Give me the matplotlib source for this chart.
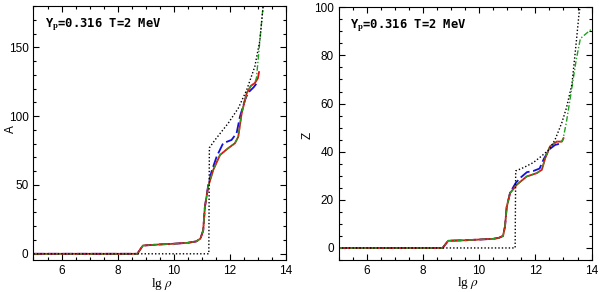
import matplotlib
matplotlib.use("Agg")
import matplotlib.pyplot as plt
from matplotlib.ticker import MultipleLocator

# ---- data ----
# left panel: A vs lg rho
a_red_x = [5.0, 8.7, 8.9, 9.5, 10.0, 10.5, 10.8, 10.95, 11.05, 11.11, 11.23, 11.41, 11.65,
           11.94, 12.18, 12.30, 12.42, 12.60, 12.75, 12.89, 13.0, 13.04]
a_red_y = [0.0, 0.0, 6.0, 6.8, 7.3, 8.0, 9.0, 11.0, 17.0, 34.0, 49.0, 61.0, 71.8,
           76.7, 80.3, 85.0, 102.0, 116.6, 122.0, 124.0, 127.5, 132.0]

a_blue_x = [5.0, 8.7, 8.9, 9.5, 10.0, 10.5, 10.8, 10.95, 11.05, 11.11, 11.23, 11.35, 11.53,
            11.76, 12.06, 12.24, 12.36, 12.54, 12.65, 12.85, 13.0]
a_blue_y = [0.0, 0.0, 6.0, 6.8, 7.3, 8.0, 9.0, 11.0, 17.0, 34.0, 50.0, 60.0, 70.6,
            80.3, 82.7, 87.6, 99.6, 111.8, 117.0, 121.0, 125.0]

a_green_x = [5.0, 8.7, 8.9, 9.5, 10.0, 10.5, 10.8, 10.95, 11.05, 11.11, 11.23, 11.41, 11.65,
             11.94, 12.18, 12.30, 12.42, 12.60, 12.75, 12.89, 12.95, 13.07, 13.2]
a_green_y = [0.0, 0.0, 6.0, 6.8, 7.3, 8.0, 9.0, 11.0, 17.0, 34.0, 49.0, 61.0, 71.8,
             76.7, 80.3, 85.0, 102.0, 116.6, 122.0, 124.0, 128.0, 155.0, 183.0]

a_black_x = [5.0, 11.25, 11.27, 11.47, 11.94, 12.30, 12.60, 12.89, 13.07, 13.2]
a_black_y = [0.0, 0.0, 77.0, 82.7, 94.8, 105.7, 119.0, 136.0, 155.0, 183.0]

# right panel: Z vs lg rho
z_red_x = [5.0, 8.7, 8.9, 9.5, 10.0, 10.5, 10.7, 10.85, 10.92, 10.98, 11.1, 11.34, 11.69,
           12.05, 12.23, 12.35, 12.52, 12.76, 12.94, 13.0]
z_red_y = [0.0, 0.0, 3.0, 3.2, 3.5, 3.8, 4.2, 5.0, 9.0, 17.0, 22.8, 26.3, 29.7,
           31.1, 32.5, 37.3, 42.2, 44.2, 44.2, 45.6]

z_blue_x = [5.0, 8.7, 8.9, 9.5, 10.0, 10.5, 10.7, 10.85, 10.92, 10.98, 11.1, 11.3, 11.5,
            11.7, 11.93, 12.15, 12.3, 12.5, 12.7, 12.95]
z_blue_y = [0.0, 0.0, 3.0, 3.2, 3.5, 3.8, 4.2, 5.0, 9.0, 17.0, 23.0, 27.0, 29.5,
            31.5, 32.0, 33.0, 37.0, 41.0, 42.8, 43.6]

z_green_x = [5.0, 8.7, 8.9, 9.5, 10.0, 10.5, 10.7, 10.85, 10.92, 10.98, 11.1, 11.34, 11.69,
             12.05, 12.23, 12.35, 12.52, 12.76, 12.94, 12.98, 13.1, 13.25, 13.45, 13.6,
             13.75, 14.0]
z_green_y = [0.0, 0.0, 3.0, 3.2, 3.5, 3.8, 4.2, 5.0, 9.0, 17.0, 22.8, 26.3, 29.7,
             31.1, 32.5, 37.3, 42.2, 44.2, 44.2, 45.0, 52.0, 63.0, 78.0, 87.0,
             88.5, 91.0]

z_black_x = [5.0, 11.28, 11.3, 11.6, 11.93, 12.2, 12.5, 12.7, 12.94, 13.1, 13.3, 13.45, 13.55, 13.62]
z_black_y = [0.0, 0.0, 32.0, 33.5, 35.5, 38.0, 41.0, 45.0, 52.0, 58.0, 68.0, 85.0, 97.0, 103.0]

label_text = r"Y$_{\mathbf{p}}$=0.316 T=2 MeV"

plt.rcParams["font.family"] = ["Liberation Sans", "DejaVu Sans"]
plt.rcParams["mathtext.fontset"] = "stix"

fig = plt.figure(figsize=(6, 2.92), dpi=100)
ax1 = fig.add_axes([0.0558, 0.1096, 0.4208, 0.8699])
ax2 = fig.add_axes([0.5643, 0.1096, 0.4217, 0.8654])


def draw_panel(ax, red, blue, green, black):
    ax.plot(blue[0], blue[1], color="#1010e0", lw=1.3, dashes=(6, 2))
    ax.plot(red[0], red[1], color="#e01010", lw=1.3)
    ax.plot(green[0], green[1], color="#20a020", lw=1.0, dashes=(4, 1.5, 1, 1.5))
    ax.plot(black[0], black[1], color="black", lw=1.0, dashes=(1, 1.5))
    ax.set_xlim(5, 14)
    ax.xaxis.set_major_locator(MultipleLocator(2))
    ax.xaxis.set_minor_locator(MultipleLocator(0.5))
    ax.tick_params(which="both", direction="in", top=True, right=True, labelsize=8.5)
    ax.tick_params(which="major", length=4.5, width=0.8)
    ax.tick_params(which="minor", length=2.5, width=0.8)
    ax.set_xlabel(r"lg $\rho$", fontsize=9.5, family="Liberation Serif", va="center")
    ax.xaxis.set_label_coords(0.51, -0.093)
    ax.text(0.045, 0.925, label_text, transform=ax.transAxes, fontsize=8.7,
            fontweight="bold", family="DejaVu Sans Mono", va="center", ha="left")


# & Left panel
draw_panel(ax1, (a_red_x, a_red_y), (a_blue_x, a_blue_y),
           (a_green_x, a_green_y), (a_black_x, a_black_y))
ax1.set_ylim(-4.5, 180)
ax1.yaxis.set_major_locator(MultipleLocator(50))
ax1.yaxis.set_minor_locator(MultipleLocator(10))
ax1.set_ylabel("A", fontsize=8.5, va="center")
ax1.yaxis.set_label_coords(-0.091, 0.515)

# & Right panel
draw_panel(ax2, (z_red_x, z_red_y), (z_blue_x, z_blue_y),
           (z_green_x, z_green_y), (z_black_x, z_black_y))
ax2.set_ylim(-5, 100)
ax2.yaxis.set_major_locator(MultipleLocator(20))
ax2.yaxis.set_minor_locator(MultipleLocator(5))
ax2.set_ylabel("Z", fontsize=8.5, va="center")
ax2.yaxis.set_label_coords(-0.121, 0.495)

fig.savefig("out.png", dpi=100)
